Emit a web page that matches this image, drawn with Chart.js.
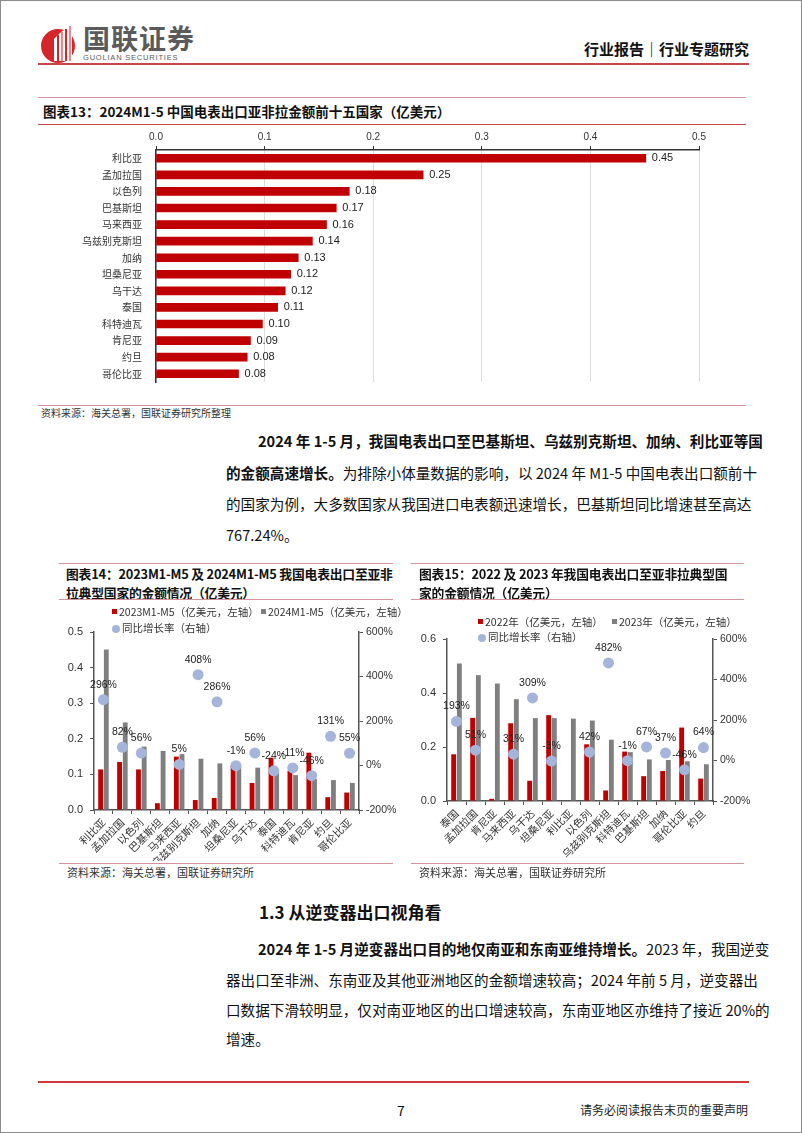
<!DOCTYPE html>
<html>
<head>
<meta charset="utf-8">
<script src="https://cdn.jsdelivr.net/npm/chart.js@4.4.1/dist/chart.umd.min.js"></script>
<style>
  body { margin: 0; background: #fff; }
  .page { position: relative; width: 802px; height: 1133px; box-sizing: border-box; border: 1px solid #8c8c8c; overflow: hidden;
          font-family: "Noto Sans CJK SC", "Liberation Sans", sans-serif; color: #111; }
  .abs { position: absolute; white-space: nowrap; }
  .rule { position: absolute; height: 0; border-top: 1px solid #d3949c; }
  .ctitle { position: absolute; font-weight: bold; font-size: 13.5px; line-height: 20px; color: #111; white-space: nowrap; }
  .ctitle.sm { font-size: 12.8px; letter-spacing: -0.2px; line-height: 19px; }
  .src { position: absolute; font-size: 10px; color: #333; white-space: nowrap; }
  .ln { position: absolute; left: 225px; width: 523px; font-size: 14.6px; line-height: 22px; text-align: justify; text-align-last: justify; white-space: nowrap; }
  .ln.first { left: 257px; width: 491px; }
  .ln.last { text-align-last: left; }
  .legend { position: absolute; font-size: 10.5px; color: #333; white-space: nowrap; line-height: 14px; }
  .sq { display: inline-block; width: 5px; height: 5px; margin-right: 2px; vertical-align: 2px; }
  .dot { display: inline-block; width: 8px; height: 8px; border-radius: 50%; background: #a5b4da; margin-right: 2px; vertical-align: -0.5px; }
  canvas { position: absolute; }
</style>
</head>
<body>
<div class="page">
  <!-- header -->
  <svg class="abs" style="left:38px;top:20px" width="42" height="44" viewBox="0 0 42 44">
    <circle cx="19" cy="25" r="17" fill="#d7262b"/>
    <path d="M15 40 L15 18 Q22 10 33 4 L33 40 Z" fill="#fff"/>
    <rect x="18" y="14" width="2" height="26" fill="#d7262b"/>
    <rect x="22" y="11" width="2" height="29" fill="#e58a8d"/>
    <rect x="26" y="8" width="2" height="32" fill="#d7262b"/>
    <rect x="30" y="5" width="2" height="35" fill="#e58a8d"/>
  </svg>
  <div class="abs" style="left:82px;top:21px;font-size:27px;font-weight:bold;color:#5b5b5b;letter-spacing:1px;line-height:32px">国联证券</div>
  <div class="abs" style="left:82px;top:52px;font-size:7.5px;color:#5b5b5b;letter-spacing:0.8px;font-family:'Liberation Sans',sans-serif;line-height:9px">GUOLIAN SECURITIES</div>
  <div class="abs" style="right:52px;top:38px;font-size:15px;font-weight:bold;line-height:20px">行业报告｜行业专题研究</div>
  <div class="rule" style="left:37px;width:711px;top:62px;border-top:2px solid #c6464a"></div>

  <!-- chart 13 -->
  <div class="rule" style="left:37px;width:708px;top:96px"></div>
  <div class="ctitle" style="left:42px;top:100px">图表13：2024M1-5 中国电表出口亚非拉金额前十五国家（亿美元）</div>
  <div class="rule" style="left:37px;width:708px;top:123px;border-top:1.5px solid #c6464a"></div>
  <canvas id="c13" width="710" height="265" style="left:60px;top:128px"></canvas>
  <div class="rule" style="left:37px;width:708px;top:404px"></div>
  <div class="src" style="left:40px;top:404px">资料来源：海关总署，国联证券研究所整理</div>

  <!-- paragraph 1 -->
  <div class="ln first" style="top:429px"><b>2024 年 1-5 月，我国电表出口至巴基斯坦、乌兹别克斯坦、加纳、利比亚等国</b></div>
  <div class="ln" style="top:461px"><b>的金额高速增长。</b>为排除小体量数据的影响，以 2024 年 M1-5 中国电表出口额前十</div>
  <div class="ln" style="top:492px">的国家为例，大多数国家从我国进口电表额迅速增长，巴基斯坦同比增速甚至高达</div>
  <div class="ln last" style="top:523px">767.24%。</div>

  <!-- chart 14 -->
  <div class="rule" style="left:58px;width:334px;top:562px"></div>
  <div class="ctitle sm" style="left:65px;top:563px">图表14：2023M1-M5 及 2024M1-M5 我国电表出口至亚非<br>拉典型国家的金额情况（亿美元）</div>
  <div class="rule" style="left:58px;width:334px;top:598px"></div>
  <canvas id="c14" width="360" height="260" style="left:45px;top:600px"></canvas>
  <div class="legend" style="left:111px;top:604px"><span class="sq" style="background:#c00000"></span>2023M1-M5（亿美元，左轴）</div>
  <div class="legend" style="left:260px;top:604px"><span class="sq" style="background:#7f7f7f"></span>2024M1-M5（亿美元，左轴）</div>
  <div class="legend" style="left:111px;top:620px"><span class="dot"></span>同比增长率（右轴）</div>
  <div class="rule" style="left:58px;width:334px;top:862px"></div>
  <div class="src" style="left:66px;top:863px;font-size:11px">资料来源：海关总署，国联证券研究所</div>

  <!-- chart 15 -->
  <div class="rule" style="left:410px;width:333px;top:562px"></div>
  <div class="ctitle sm" style="left:418px;top:563px">图表15：2022 及 2023 年我国电表出口至亚非拉典型国<br>家的金额情况（亿美元）</div>
  <div class="rule" style="left:410px;width:333px;top:598px"></div>
  <canvas id="c15" width="360" height="260" style="left:405px;top:600px"></canvas>
  <div class="legend" style="left:477px;top:614px"><span class="sq" style="background:#c00000"></span>2022年（亿美元，左轴）</div>
  <div class="legend" style="left:611px;top:614px"><span class="sq" style="background:#7f7f7f"></span>2023年（亿美元，左轴）</div>
  <div class="legend" style="left:477px;top:629px"><span class="dot"></span>同比增长率（右轴）</div>
  <div class="rule" style="left:410px;width:333px;top:862px"></div>
  <div class="src" style="left:418px;top:863px;font-size:11px">资料来源：海关总署，国联证券研究所</div>

  <!-- section 1.3 -->
  <div class="abs" style="left:258px;top:899px;font-size:17px;font-weight:bold;line-height:24px">1.3 从逆变器出口视角看</div>
  <div class="ln first" style="top:937px"><b>2024 年 1-5 月逆变器出口目的地仅南亚和东南亚维持增长。</b>2023 年，我国逆变</div>
  <div class="ln" style="top:968px">器出口至非洲、东南亚及其他亚洲地区的金额增速较高；2024 年前 5 月，逆变器出</div>
  <div class="ln" style="top:998px">口数据下滑较明显，仅对南亚地区的出口增速较高，东南亚地区亦维持了接近 20%的</div>
  <div class="ln last" style="top:1027px">增速。</div>

  <!-- footer -->
  <div class="rule" style="left:37px;width:711px;top:1080px;border-top:2px solid #d0393d"></div>
  <div class="abs" style="left:396px;top:1099px;font-size:14px;line-height:20px">7</div>
  <div class="abs" style="right:53px;top:1100px;font-size:12px;line-height:18px;color:#222">请务必阅读报告末页的重要声明</div>
</div>

<script>
// 图表13 数据
const c13Countries = ['利比亚', '孟加拉国', '以色列', '巴基斯坦', '马来西亚', '乌兹别克斯坦', '加纳', '坦桑尼亚', '乌干达', '泰国', '科特迪瓦', '肯尼亚', '约旦', '哥伦比亚'];
const c13Values = [0.451, 0.246, 0.178, 0.166, 0.157, 0.144, 0.131, 0.124, 0.119, 0.112, 0.098, 0.087, 0.084, 0.076];
const c13Ticks = [0, 0.1, 0.2, 0.3, 0.4, 0.5];

// 图表14 数据
const c14Countries = c13Countries;
const c14V2023 = [0.114, 0.135, 0.114, 0.019, 0.150, 0.028, 0.034, 0.125, 0.076, 0.147, 0.110, 0.161, 0.036, 0.049];
const c14V2024 = c13Values;
const c14Growth = [296, 82, 56, 767.24, 5, 408, 286, -1, 56, -24, -11, -46, 131, 55];

// 图表15 数据
const c15Countries = ['泰国', '孟加拉国', '肯尼亚', '马来西亚', '乌干达', '坦桑尼亚', '利比亚', '以色列', '乌兹别克斯坦', '科特迪瓦', '巴基斯坦', '加纳', '哥伦比亚', '约旦'];
const c15V2022 = [0.173, 0.308, 0.008, 0.288, 0.075, 0.318, 0, 0.210, 0.039, 0.183, 0.092, 0.111, 0.272, 0.083];
const c15V2023 = [0.509, 0.466, 0.435, 0.377, 0.307, 0.307, 0.305, 0.298, 0.227, 0.181, 0.154, 0.152, 0.147, 0.136];
const c15Growth = [193, 51, null, 31, 309, -3, null, 42, 482, -1, 67, 37, -46, 64];

const cjk = '"Noto Sans CJK SC", sans-serif';
const num = '"Liberation Sans", Arial, sans-serif';
const RED = '#c00000', GRAY = '#7f7f7f', DOT = '#a5b4da', AXIS = '#555';

// 数值标签（柱末端 / 散点上方）
const valueLabels = {
  id: 'valueLabels',
  afterDatasetsDraw(chart) {
    const { ctx, chartArea } = chart;
    chart.data.datasets.forEach((ds, i) => {
      if (!ds.labelMode) return;
      const meta = chart.getDatasetMeta(i);
      ctx.save();
      ctx.fillStyle = '#222';
      meta.data.forEach((el, j) => {
        const v = ds.data[j];
        if (v == null) return;
        if (ds.labelMode === 'barEnd') {
          ctx.font = '11px ' + num;
          ctx.textAlign = 'left';
          ctx.textBaseline = 'middle';
          ctx.fillText(v.toFixed(2), el.x + 6, el.y);
        } else {
          if (el.y < chartArea.top || el.y > chartArea.bottom) return;
          ctx.font = '10.5px ' + num;
          ctx.textAlign = 'center';
          ctx.textBaseline = 'middle';
          ctx.fillText(Math.round(v) + '%', el.x, el.y - 15);
        }
      });
      ctx.restore();
    });
  }
};

// 图表13
new Chart(document.getElementById('c13'), {
  type: 'bar',
  data: {
    labels: c13Countries,
    datasets: [{
      data: c13Values,
      backgroundColor: RED,
      barThickness: 8,
      labelMode: 'barEnd'
    }]
  },
  options: {
    indexAxis: 'y',
    responsive: false,
    animation: false,
    layout: { padding: { left: 0, right: 72, top: 0, bottom: 6 } },
    plugins: { legend: { display: false }, tooltip: { enabled: false } },
    scales: {
      x: {
        position: 'top', min: 0, max: 0.5,
        afterBuildTicks: s => { s.ticks = c13Ticks.map(v => ({ value: v })); },
        ticks: { callback: v => v.toFixed(1), font: { family: num, size: 10 }, color: '#333', padding: 3 },
        grid: { color: '#dcdcdc', tickColor: '#333', tickLength: 4 },
        border: { color: '#333', width: 1.5 },
        afterFit: s => { s.height = 21; }
      },
      y: {
        grid: { display: false },
        border: { color: '#333', width: 1.5 },
        ticks: { font: { family: cjk, size: 10 }, color: '#333', padding: 6 },
        afterFit: s => { s.width = 95; }
      }
    }
  },
  plugins: [valueLabels]
});

// 双轴组合图（图表14、15）
function comboChart(id, labels, v1, v2, growth, leftMax, leftStep, dims) {
  return new Chart(document.getElementById(id), {
    data: {
      labels: labels,
      datasets: [
        { type: 'line', data: growth, yAxisID: 'y1', showLine: false, pointRadius: 5.5, pointHoverRadius: 5.5,
          pointBackgroundColor: DOT, pointBorderWidth: 0, order: 0, labelMode: 'point' },
        { type: 'bar', data: v1, backgroundColor: RED, yAxisID: 'y', order: 1,
          categoryPercentage: 0.6, barPercentage: 0.85 },
        { type: 'bar', data: v2, backgroundColor: GRAY, yAxisID: 'y', order: 1,
          categoryPercentage: 0.6, barPercentage: 0.85 }
      ]
    },
    options: {
      responsive: false,
      animation: false,
      layout: { padding: { left: 0, right: 0, top: dims.top, bottom: 0 } },
      plugins: { legend: { display: false }, tooltip: { enabled: false } },
      scales: {
        x: {
          grid: { drawOnChartArea: false, tickColor: AXIS, tickLength: 4 },
          border: { color: AXIS, width: 1.5 },
          ticks: { autoSkip: false, minRotation: 45, maxRotation: 45, font: { family: cjk, size: 10.5 }, color: '#333', padding: 2 },
          afterFit: s => { s.height = dims.xh; }
        },
        y: {
          position: 'left', min: 0, max: leftMax,
          ticks: { stepSize: leftStep, callback: v => v.toFixed(1), font: { family: num, size: 11 }, color: '#333', padding: 7 },
          grid: { drawOnChartArea: false, tickColor: AXIS, tickLength: 4 },
          border: { color: AXIS, width: 1.5 },
          afterFit: s => { s.width = dims.yl; }
        },
        y1: {
          position: 'right', min: -200, max: 600,
          ticks: { stepSize: 200, callback: v => v + '%', font: { family: num, size: 10.5 }, color: '#333', padding: 3 },
          grid: { drawOnChartArea: false, tickColor: AXIS, tickLength: 4 },
          border: { color: AXIS, width: 1.5 },
          afterFit: s => { s.width = dims.yr; }
        }
      }
    },
    plugins: [valueLabels]
  });
}

comboChart('c14', c14Countries, c14V2023, c14V2024, c14Growth, 0.5, 0.1, { top: 31, xh: 51, yl: 48, yr: 47 });
comboChart('c15', c15Countries, c15V2022, c15V2023, c15Growth, 0.6, 0.2, { top: 38, xh: 60, yl: 41, yr: 53 });
</script>
</body>
</html>
